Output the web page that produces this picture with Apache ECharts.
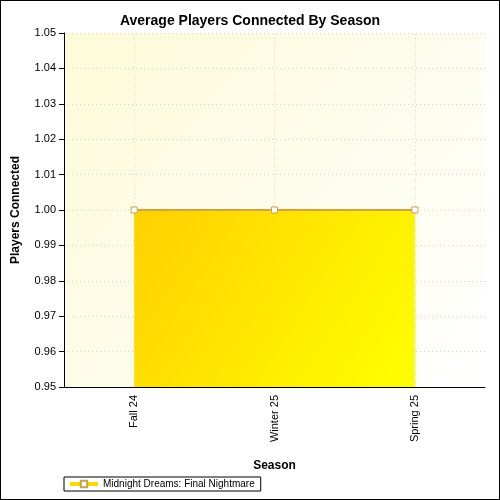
<!DOCTYPE html><html><head><meta charset="utf-8"><script src="https://cdn.jsdelivr.net/npm/echarts@6/dist/echarts.min.js"></script>
<style>html,body{margin:0;padding:0}#c{width:498px;height:498px;border:1px solid #000}</style></head><body><div id="c"></div><script>
const categories=["Fall 24","Winter 25","Spring 25"];
const values=[1.00,1.00,1.00];
const seriesName="Midnight Dreams: Final Nightmare";
const chart=echarts.init(document.getElementById('c'));
chart.setOption({
 animation:false,
 title:{text:"Average Players Connected By Season",left:'center',top:8,textStyle:{fontFamily:'Liberation Sans',fontSize:14,fontWeight:'bold',color:'#000'}},
 grid:{left:63,right:14,top:32,bottom:112,show:true,borderWidth:0,backgroundColor:new echarts.graphic.LinearGradient(0,0,1,1,[{offset:0,color:'#fdfbd8'},{offset:1,color:'#ffffff'}])},
 legend:{left:63,bottom:8,itemWidth:28,itemHeight:8,data:[{name:seriesName,itemStyle:{color:'#fff',borderColor:'#c8a050'},lineStyle:{color:'#ffd800',width:4}}],textStyle:{fontFamily:'Liberation Sans',fontSize:10,color:'#000'},borderColor:'#000',borderWidth:1,padding:[2,6,2,4],borderRadius:0},
 xAxis:{type:'category',data:categories,boundaryGap:true,name:'Season',nameLocation:'middle',nameGap:73,nameTextStyle:{fontFamily:'Liberation Sans',fontWeight:'bold',fontSize:12,color:'#000'},
  axisLine:{lineStyle:{color:'#000'}},axisTick:{alignWithLabel:true,length:5,lineStyle:{color:'#000'}},axisLabel:{rotate:90,fontFamily:'Liberation Sans',fontSize:11,color:'#000'},splitLine:{show:false}},
 yAxis:{type:'value',min:0.95,max:1.05,interval:0.01,name:'Players Connected',nameLocation:'middle',nameGap:42,nameTextStyle:{fontFamily:'Liberation Sans',fontWeight:'bold',fontSize:12,color:'#000'},
  axisLine:{show:true,lineStyle:{color:'#000'}},axisTick:{show:true,length:5,lineStyle:{color:'#000'}},axisLabel:{fontFamily:'Liberation Sans',fontSize:11,color:'#000',formatter:v=>v.toFixed(2)},splitLine:{lineStyle:{color:'#d8d8c8',type:[1,3]}}},
 series:[{name:seriesName,type:'line',data:values,symbol:'rect',symbolSize:6,z:3,itemStyle:{color:'#fff',borderColor:'#c8a050',borderWidth:1},
  lineStyle:{color:'#d9a040',width:2},
  areaStyle:{origin:'start',opacity:1,color:new echarts.graphic.LinearGradient(0,0,1,1,[{offset:0,color:'#ffd000'},{offset:1,color:'#ffff00'}])},
  markLine:{silent:true,symbol:'none',label:{show:false},z:1,lineStyle:{color:'#d8d8c8',type:[1,3],width:1},data:categories.map(c=>({xAxis:c}))}}]
});
</script></body></html>
